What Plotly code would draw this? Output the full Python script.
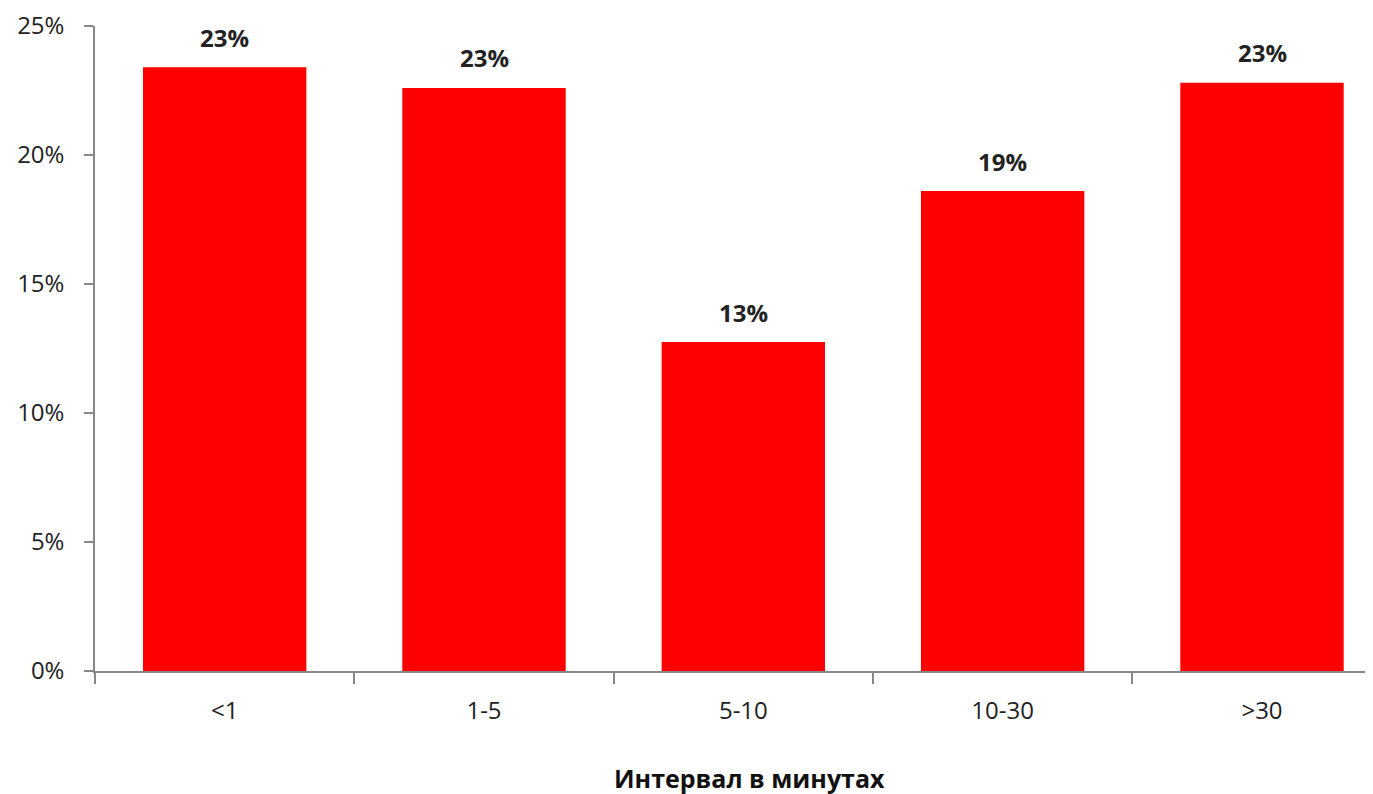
import plotly.graph_objects as go

categories = ["<1", "1-5", "5-10", "10-30", ">30"]
values = [0.234, 0.226, 0.1275, 0.186, 0.228]
y_ticks = [0, 0.05, 0.10, 0.15, 0.20, 0.25]
y_tick_labels = ["0%", "5%", "10%", "15%", "20%", "25%"]
x_title = "Интервал в минутах"

FONT = "Open Sans"
xpos = list(range(len(categories)))

fig = go.Figure(go.Bar(
    x=xpos,
    y=values,
    marker=dict(color="#FF0000", line=dict(width=0)),
    width=0.63,
    hoverinfo="y",
))

for xi, v in zip(xpos, values):
    fig.add_annotation(
        x=xi, y=v, text="<b>%d%%</b>" % round(v * 100),
        showarrow=False, yanchor="middle", yshift=30,
        font=dict(family=FONT, size=24, color="#222"),
    )

fig.add_annotation(
    x=0.5125, y=0, xref="paper", yref="paper",
    text="<b>" + x_title + "</b>", showarrow=False,
    yanchor="middle", yshift=-107,
    font=dict(family=FONT, size=25, color="#111"),
)

fig.update_layout(
    width=1365, height=786,
    margin=dict(l=87, r=0, t=18, b=123),
    paper_bgcolor="white", plot_bgcolor="white",
    showlegend=False,
    xaxis=dict(
        range=[-0.5, 4.428],
        tickmode="array",
        tickvals=xpos,
        ticktext=categories,
        showgrid=False, zeroline=False,
        showline=True, linecolor="#888", linewidth=1.5,
        ticks="",
        minor=dict(tickmode="array",
                   tickvals=[i - 0.5 for i in range(len(categories) + 1)],
                   ticks="outside", ticklen=11, tickcolor="#888",
                   tickwidth=1.5, showgrid=False),
        tickfont=dict(family=FONT, size=24, color="#222"),
        ticklabelstandoff=17,
    ),
    yaxis=dict(
        range=[0, 0.25],
        tickmode="array",
        tickvals=y_ticks,
        ticktext=y_tick_labels,
        showgrid=False, zeroline=False,
        showline=True, linecolor="#888", linewidth=1.5,
        ticks="outside", ticklen=9, tickcolor="#888", tickwidth=1.5,
        tickfont=dict(family=FONT, size=24, color="#222"),
        ticklabelstandoff=15,
    ),
)

fig.write_html("out.html")
